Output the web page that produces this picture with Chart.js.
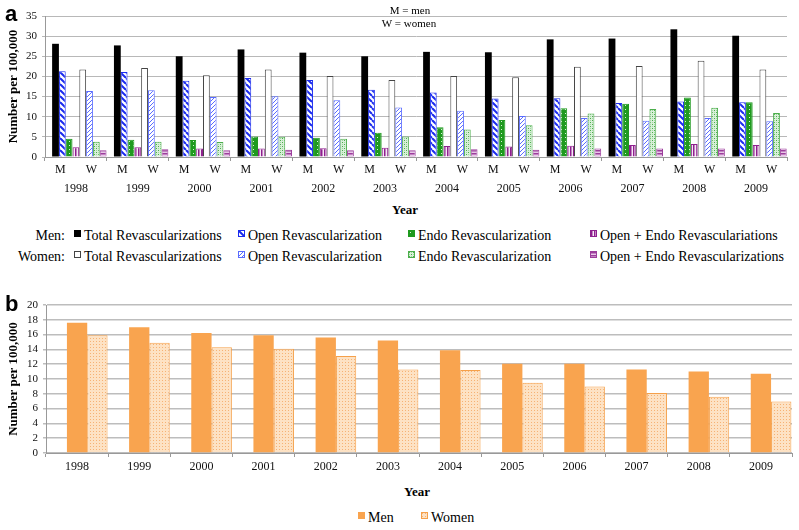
<!DOCTYPE html>
<html lang="en">
<head>
    <meta charset="UTF-8">
    <title>Revascularizations per 100,000</title>
    <style>
        body {
            margin: 0;
            background: #fff;
            font-family: "Liberation Serif", "Times New Roman", serif;
            color: #000;
        }
        #page {
            position: relative;
            width: 799px;
            height: 530px;
            overflow: hidden;
        }
        canvas {
            position: absolute;
            left: 0;
        }
        .panel-tag {
            position: absolute;
            font-family: "Liberation Sans", Arial, sans-serif;
            font-weight: bold;
            font-size: 22px;
            line-height: 22px;
        }
        .note, .axis-title, .row-label, .item {
            font-family: "Liberation Serif", "Times New Roman", serif;
        }
        .note {
            position: absolute;
            font-size: 11px;
            line-height: 12px;
            transform: translateX(-50%);
            white-space: nowrap;
        }
        .axis-title {
            position: absolute;
            font-weight: bold;
            font-size: 13px;
            line-height: 14px;
            transform: translateX(-50%);
        }
        .row-label {
            position: absolute;
            width: 65px;
            left: 0;
            text-align: right;
            font-size: 14px;
            line-height: 16px;
        }
        .item {
            position: absolute;
            font-size: 14px;
            line-height: 16px;
            white-space: nowrap;
        }
        .swatch {
            display: inline-block;
            width: 7px;
            height: 7px;
            margin-right: 3px;
            vertical-align: 3px;
            box-sizing: border-box;
        }
    </style>
</head>
<body>
<div id="page">
    <canvas id="chartA" width="799" height="200" style="top:0"></canvas>
    <canvas id="chartB" width="799" height="185" style="top:290px"></canvas>

    <div class="panel-tag" style="left:5px;top:3px">a</div>
    <div class="note" style="left:410px;top:4px">M = men</div>
    <div class="note" style="left:409px;top:17px">W = women</div>
    <div class="axis-title" style="left:405px;top:203px">Year</div>
    <div id="legendA"></div>

    <div class="panel-tag" style="left:5px;top:293px">b</div>
    <div class="axis-title" style="left:417px;top:485px">Year</div>
    <div id="legendB"></div>
</div>

<script src="https://cdn.jsdelivr.net/npm/chart.js"></script>
<script>
    // ---- data ----
    const years = ['1998', '1999', '2000', '2001', '2002', '2003', '2004', '2005', '2006', '2007', '2008', '2009'];
    const sexLabels = ['M', 'W'];

    // panel a
    const menTotal      = [28.1, 27.7, 25.0, 26.7, 25.9, 25.0, 26.1, 26.0, 29.2, 29.4, 31.7, 30.1];
    const menOpen       = [21.3, 21.1, 18.9, 19.6, 19.1, 16.7, 16.0, 14.5, 14.6, 13.4, 13.8, 13.6];
    const menEndo       = [4.5, 4.3, 4.2, 5.1, 4.8, 6.0, 7.4, 9.2, 12.1, 13.2, 14.8, 13.6];
    const menOpenEndo   = [2.4, 2.4, 2.1, 2.1, 2.2, 2.3, 2.7, 2.6, 2.8, 3.0, 3.2, 3.0];
    const womenTotal    = [21.7, 22.1, 20.3, 21.7, 20.1, 19.1, 20.1, 19.8, 22.4, 22.6, 23.9, 21.7];
    const womenOpen     = [16.4, 16.6, 14.9, 15.1, 14.1, 12.3, 11.5, 10.2, 9.7, 9.0, 9.7, 8.9];
    const womenEndo     = [3.8, 3.8, 3.7, 5.0, 4.5, 5.1, 6.8, 7.9, 10.8, 11.9, 12.2, 10.9];
    const womenOpenEndo = [1.7, 1.9, 1.7, 1.8, 1.7, 1.7, 1.9, 1.8, 2.1, 2.1, 2.1, 2.1];

    // panel b
    const menRate   = [17.6, 17.0, 16.2, 15.9, 15.6, 15.2, 13.9, 12.05, 12.05, 11.3, 11.0, 10.7];
    const womenRate = [15.9, 14.9, 14.3, 14.1, 13.1, 11.3, 11.2, 9.5, 9.0, 8.1, 7.6, 6.95];

    const serif = '"Liberation Serif", "Times New Roman", serif';

    // small repeating tiles for the hatched fills
    function makeTile(size, bg, draw) {
        const c = document.createElement('canvas');
        c.width = c.height = size;
        const g = c.getContext('2d');
        g.fillStyle = bg;
        g.fillRect(0, 0, size, size);
        if (draw) draw(g, size);
        return c;
    }

    const tiles = {
        menOpen: makeTile(6, '#ffffff', (g, s) => {
            g.strokeStyle = '#1a2bef';
            g.lineWidth = 2;
            for (let x0 = -s; x0 <= s; x0 += s) {
                g.beginPath(); g.moveTo(x0, 0); g.lineTo(x0 + s, s); g.stroke();
            }
        }),
        womenOpen: makeTile(4, '#ffffff', (g, s) => {
            g.strokeStyle = '#5a6cff';
            g.lineWidth = 1;
            for (let x0 = 0; x0 <= 2 * s; x0 += s) {
                g.beginPath(); g.moveTo(x0, 0); g.lineTo(x0 - s, s); g.stroke();
            }
        }),
        menEndo: makeTile(4, '#1f9a1f', (g) => {
            g.fillStyle = '#d8f0d8';
            g.fillRect(1, 1, 1, 1);
        }),
        womenEndo: makeTile(4, '#d9f0d9', (g) => {
            g.fillStyle = '#4cae4c';
            g.fillRect(0, 0, 1, 1);
            g.fillRect(2, 2, 1, 1);
            g.fillStyle = '#9fd69f';
            g.fillRect(2, 0, 1, 1);
            g.fillRect(0, 2, 1, 1);
        }),
        menOpenEndo: makeTile(3, '#f6e8f6', (g) => {
            g.fillStyle = '#8e1f8e';
            g.fillRect(0, 0, 1.5, 3);
        }),
        womenOpenEndo: makeTile(3, '#e8c8e8', (g) => {
            g.fillStyle = '#9c3d9c';
            g.fillRect(0, 0, 3, 1.5);
        }),
        womenRate: makeTile(3, '#fde2c4', (g) => {
            g.fillStyle = '#f6b274';
            g.fillRect(0, 0, 1, 1);
        })
    };

    const ctxA = document.getElementById('chartA').getContext('2d');
    const pat = name => ctxA.createPattern(tiles[name], 'repeat');

    const seriesA = [
        { key: 'menTotal', label: 'Total Revascularizations', data: menTotal, fill: '#000000', border: '#000000', width: 0 },
        { key: 'menOpen', label: 'Open Revascularization', data: menOpen, fill: pat('menOpen'), border: '#1a2bef', width: 1 },
        { key: 'menEndo', label: 'Endo Revascularization', data: menEndo, fill: pat('menEndo'), border: '#1f9a1f', width: 1 },
        { key: 'menOpenEndo', label: 'Open + Endo Revasculariations', data: menOpenEndo, fill: pat('menOpenEndo'), border: '#8e1f8e', width: 1 },
        { key: 'womenTotal', label: 'Total Revascularizations', data: womenTotal, fill: '#ffffff', border: '#444444', width: 1 },
        { key: 'womenOpen', label: 'Open Revascularization', data: womenOpen, fill: pat('womenOpen'), border: '#5a6cff', width: 1 },
        { key: 'womenEndo', label: 'Endo Revascularization', data: womenEndo, fill: pat('womenEndo'), border: '#4cae4c', width: 1 },
        { key: 'womenOpenEndo', label: 'Open + Endo Revascularizations', data: womenOpenEndo, fill: pat('womenOpenEndo'), border: '#9c3d9c', width: 1 }
    ];

    // empty first slot reproduces the right-shifted bar groups of the original
    const spacer = { label: '', data: years.map(() => null) };

    const tickFont = { family: serif, size: 11 };
    const catFont = { family: serif, size: 12 };

    new Chart(ctxA, {
        type: 'bar',
        data: {
            labels: years,
            datasets: [spacer].concat(seriesA.map(s => ({
                label: s.label,
                data: s.data,
                backgroundColor: s.fill,
                borderColor: s.border,
                borderWidth: s.width
            })))
        },
        options: {
            responsive: false,
            animation: false,
            devicePixelRatio: 1,
            layout: { padding: { top: 16, right: 12, left: 0, bottom: 0 } },
            datasets: { bar: { categoryPercentage: 0.99, barPercentage: 1 } },
            plugins: { legend: { display: false }, tooltip: { enabled: false } },
            scales: {
                x: {
                    weight: 1,
                    grid: { display: false, drawTicks: false },
                    border: { display: false },
                    ticks: { font: catFont, color: '#111', padding: 5, autoSkip: false, maxRotation: 0 },
                    afterFit: s => { s.height = 23; }
                },
                mw: {
                    type: 'category',
                    labels: years.flatMap(() => sexLabels),
                    position: 'bottom',
                    offset: true,
                    weight: 0,
                    grid: {
                        offset: true,
                        drawOnChartArea: false,
                        tickLength: 4,
                        color: c => (c.index === undefined || c.index % 2 === 0) ? '#999999' : 'rgba(0,0,0,0)'
                    },
                    border: { color: '#999999' },
                    ticks: { font: catFont, color: '#111', padding: 2, autoSkip: false, maxRotation: 0 },
                    afterFit: s => { s.height = 20; }
                },
                y: {
                    min: 0,
                    max: 35,
                    ticks: { stepSize: 5, autoSkip: false, font: tickFont, color: '#111', padding: 5 },
                    grid: { color: '#b8b8b8', tickLength: 3 },
                    border: { color: '#999999' },
                    title: {
                        display: true,
                        text: 'Number per 100,000',
                        font: { family: serif, size: 13, weight: 'bold' },
                        color: '#000',
                        padding: { top: 6, bottom: 0 }
                    },
                    afterFit: s => { s.width = 45; }
                }
            }
        }
    });

    const ctxB = document.getElementById('chartB').getContext('2d');
    const seriesB = [
        { label: 'Men', data: menRate, fill: '#f9a44f', border: '#f9a44f', width: 0, tile: null },
        { label: 'Women', data: womenRate, fill: ctxB.createPattern(tiles.womenRate, 'repeat'), border: '#f5a04a', width: 1, tile: 'womenRate' }
    ];

    new Chart(ctxB, {
        type: 'bar',
        data: {
            labels: years,
            datasets: [spacer].concat(seriesB.map(s => ({
                label: s.label,
                data: s.data,
                backgroundColor: s.fill,
                borderColor: s.border,
                borderWidth: s.width
            })))
        },
        options: {
            responsive: false,
            animation: false,
            devicePixelRatio: 1,
            layout: { padding: { top: 15, right: 7, left: 0, bottom: 0 } },
            datasets: { bar: { categoryPercentage: 0.98, barPercentage: 1 } },
            plugins: { legend: { display: false }, tooltip: { enabled: false } },
            scales: {
                x: {
                    grid: { offset: true, drawOnChartArea: false, tickLength: 4, color: '#999999' },
                    border: { color: '#999999' },
                    ticks: { font: catFont, color: '#111', padding: 3, autoSkip: false, maxRotation: 0 },
                    afterFit: s => { s.height = 22; }
                },
                y: {
                    min: 0,
                    max: 20,
                    ticks: { stepSize: 2, autoSkip: false, font: tickFont, color: '#111', padding: 5 },
                    grid: { color: '#bdbdbd', lineWidth: 1.5, tickLength: 3 },
                    border: { color: '#999999' },
                    title: {
                        display: true,
                        text: 'Number per 100,000',
                        font: { family: serif, size: 13, weight: 'bold' },
                        color: '#000',
                        padding: { top: 6, bottom: 0 }
                    },
                    afterFit: s => { s.width = 46; }
                }
            }
        }
    });

    // ---- HTML legends ----
    function swatchHtml(fill, border, tileName) {
        let bg = 'background:' + fill + ';';
        if (tileName) bg = 'background-image:url(' + tiles[tileName].toDataURL() + ');';
        const bd = border ? 'border:1px solid ' + border + ';' : '';
        return '<span class="swatch" style="' + bg + bd + '"></span>';
    }

    const legendA = document.getElementById('legendA');
    const itemX = [74, 238, 408, 590];
    const rows = [
        { name: 'Men:', top: 228, series: seriesA.slice(0, 4) },
        { name: 'Women:', top: 249, series: seriesA.slice(4) }
    ];
    let htmlA = '';
    rows.forEach(r => {
        htmlA += '<div class="row-label" style="top:' + r.top + 'px">' + r.name + '</div>';
        r.series.forEach((s, i) => {
            const tileName = tiles[s.key] ? s.key : null;
            const border = s.key === 'womenTotal' ? '#444' : (tileName ? s.border : null);
            htmlA += '<div class="item" style="left:' + itemX[i] + 'px;top:' + r.top + 'px">' +
                swatchHtml(s.fill, border, tileName) + s.label + '</div>';
        });
    });
    legendA.innerHTML = htmlA;

    const legendB = document.getElementById('legendB');
    const itemXB = [358, 421];
    legendB.innerHTML = seriesB.map((s, i) =>
        '<div class="item" style="left:' + itemXB[i] + 'px;top:510px">' +
        swatchHtml(s.fill, s.tile ? s.border : null, s.tile) + s.label + '</div>'
    ).join('');
</script>
</body>
</html>
